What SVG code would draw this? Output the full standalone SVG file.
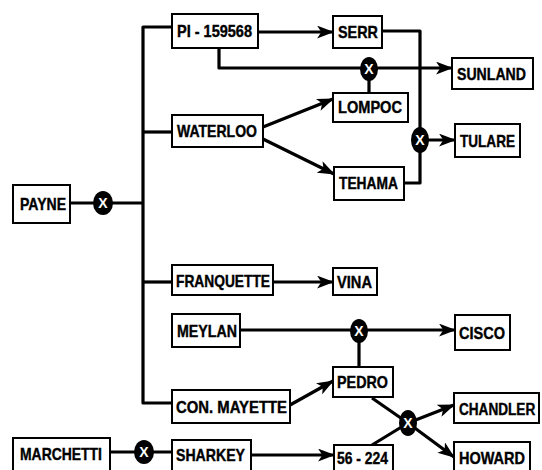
<svg xmlns="http://www.w3.org/2000/svg" width="542" height="470" viewBox="0 0 542 470">
<defs>
<style>
.box{fill:#fff;stroke:#000;stroke-width:2}
.lbl{font-family:"Liberation Sans",Arial,sans-serif;font-weight:bold;font-size:17px;fill:#000;stroke:#000;stroke-width:0.4}
.ln{fill:none;stroke:#000;stroke-width:3.2;stroke-linejoin:round}
.ar{marker-end:url(#ah)}
.xc{fill:#000}
.xt{font-family:"Liberation Sans",Arial,sans-serif;font-weight:bold;font-size:14px;fill:#fff;text-anchor:middle}
</style>
<marker id="ah" viewBox="0 0 16 12" refX="15" refY="6" markerWidth="17" markerHeight="13" markerUnits="userSpaceOnUse" orient="auto">
<path d="M0,0 L16,6 L0,12 L4,6 Z" fill="#000"/>
</marker>
</defs>
<rect width="542" height="470" fill="#fff"/>
<g id="connectors">
<path class="ln" d="M172,27 H143 V403 H172"/>
<path class="ln" d="M143,132 H172"/>
<path class="ln" d="M143,282 H172"/>
<path class="ln" d="M70,203 H143"/>
<path class="ln ar" d="M258,32 H333"/>
<path class="ln ar" d="M219,48 V68 H452"/>
<path class="ln" d="M369,68 V93"/>
<path class="ln" d="M382,31 H420 V183 H404"/>
<path class="ln ar" d="M420,140 H455"/>
<path class="ln ar" d="M263,127 L333,99"/>
<path class="ln ar" d="M263,139 L334,174"/>
<path class="ln ar" d="M273,282 H333"/>
<path class="ln ar" d="M240,330 H455"/>
<path class="ln" d="M359,330 V367"/>
<path class="ln ar" d="M290,405 L333,381"/>
<path class="ln" d="M372,398 L408,423 L372,445"/>
<path class="ln ar" d="M408,423 L454,405"/>
<path class="ln ar" d="M408,423 L454,457"/>
<path class="ln" d="M110,452 H172"/>
<path class="ln ar" d="M251,455 H334"/>
<g id="x1"><ellipse class="xc" cx="103" cy="203" rx="10" ry="12"/><text class="xt" x="103" y="208">X</text></g>
<g id="x2"><ellipse class="xc" cx="369" cy="69" rx="9" ry="12"/><text class="xt" x="369" y="74">X</text></g>
<g id="x3"><ellipse class="xc" cx="420" cy="140" rx="9" ry="13"/><text class="xt" x="420" y="145">X</text></g>
<g id="x4"><ellipse class="xc" cx="359" cy="331" rx="9" ry="12"/><text class="xt" x="359" y="336">X</text></g>
<g id="x5"><ellipse class="xc" cx="408" cy="423" rx="9" ry="13"/><text class="xt" x="408" y="428">X</text></g>
<g id="x6"><ellipse class="xc" cx="144" cy="452" rx="10" ry="12"/><text class="xt" x="144" y="457">X</text></g>
</g>
<g id="payne"><rect class="box" x="13" y="185" width="57" height="38"/><text class="lbl" x="20" y="210" textLength="46" lengthAdjust="spacingAndGlyphs">PAYNE</text></g>
<g id="pi159568"><rect class="box" x="172" y="14" width="86" height="34"/><text class="lbl" x="177" y="37" textLength="75" lengthAdjust="spacingAndGlyphs">PI - 159568</text></g>
<g id="waterloo"><rect class="box" x="172" y="115" width="91" height="32"/><text class="lbl" x="177" y="137" textLength="80" lengthAdjust="spacingAndGlyphs">WATERLOO</text></g>
<g id="serr"><rect class="box" x="333" y="16" width="49" height="32"/><text class="lbl" x="338" y="38" textLength="40" lengthAdjust="spacingAndGlyphs">SERR</text></g>
<g id="sunland"><rect class="box" x="452" y="58" width="81" height="31"/><text class="lbl" x="457" y="80" textLength="69" lengthAdjust="spacingAndGlyphs">SUNLAND</text></g>
<g id="lompoc"><rect class="box" x="333" y="93" width="75" height="29"/><text class="lbl" x="338" y="113" textLength="64" lengthAdjust="spacingAndGlyphs">LOMPOC</text></g>
<g id="tulare"><rect class="box" x="455" y="124" width="65" height="33"/><text class="lbl" x="460" y="147" textLength="55" lengthAdjust="spacingAndGlyphs">TULARE</text></g>
<g id="tehama"><rect class="box" x="334" y="167" width="70" height="33"/><text class="lbl" x="339" y="189" textLength="59" lengthAdjust="spacingAndGlyphs">TEHAMA</text></g>
<g id="franquette"><rect class="box" x="172" y="265" width="101" height="30"/><text class="lbl" x="176" y="287" textLength="94" lengthAdjust="spacingAndGlyphs">FRANQUETTE</text></g>
<g id="vina"><rect class="box" x="333" y="268" width="44" height="27"/><text class="lbl" x="337" y="288" textLength="35" lengthAdjust="spacingAndGlyphs">VINA</text></g>
<g id="meylan"><rect class="box" x="172" y="314" width="68" height="33"/><text class="lbl" x="177" y="337" textLength="60" lengthAdjust="spacingAndGlyphs">MEYLAN</text></g>
<g id="cisco"><rect class="box" x="455" y="315" width="55" height="35"/><text class="lbl" x="459" y="339" textLength="46" lengthAdjust="spacingAndGlyphs">CISCO</text></g>
<g id="conmayette"><rect class="box" x="172" y="390" width="118" height="33"/><text class="lbl" x="176" y="413" textLength="111" lengthAdjust="spacingAndGlyphs">CON. MAYETTE</text></g>
<g id="pedro"><rect class="box" x="333" y="367" width="60" height="30"/><text class="lbl" x="337" y="388" textLength="51" lengthAdjust="spacingAndGlyphs">PEDRO</text></g>
<g id="chandler"><rect class="box" x="454" y="393" width="85" height="30"/><text class="lbl" transform="translate(459,415) scale(0.8,1)" x="0" y="0">CHANDLER</text></g>
<g id="howard"><rect class="box" x="454" y="442" width="76" height="40"/><text class="lbl" x="459" y="464" textLength="66" lengthAdjust="spacingAndGlyphs">HOWARD</text></g>
<g id="marchetti"><rect class="box" x="13" y="438" width="97" height="40"/><text class="lbl" x="20" y="460" textLength="82" lengthAdjust="spacingAndGlyphs">MARCHETTI</text></g>
<g id="sharkey"><rect class="box" x="172" y="440" width="79" height="40"/><text class="lbl" x="176" y="461" textLength="69" lengthAdjust="spacingAndGlyphs">SHARKEY</text></g>
<g id="n56224"><rect class="box" x="334" y="445" width="59" height="40"/><text class="lbl" x="337" y="464" textLength="51" lengthAdjust="spacingAndGlyphs">56 - 224</text></g>
</svg>
